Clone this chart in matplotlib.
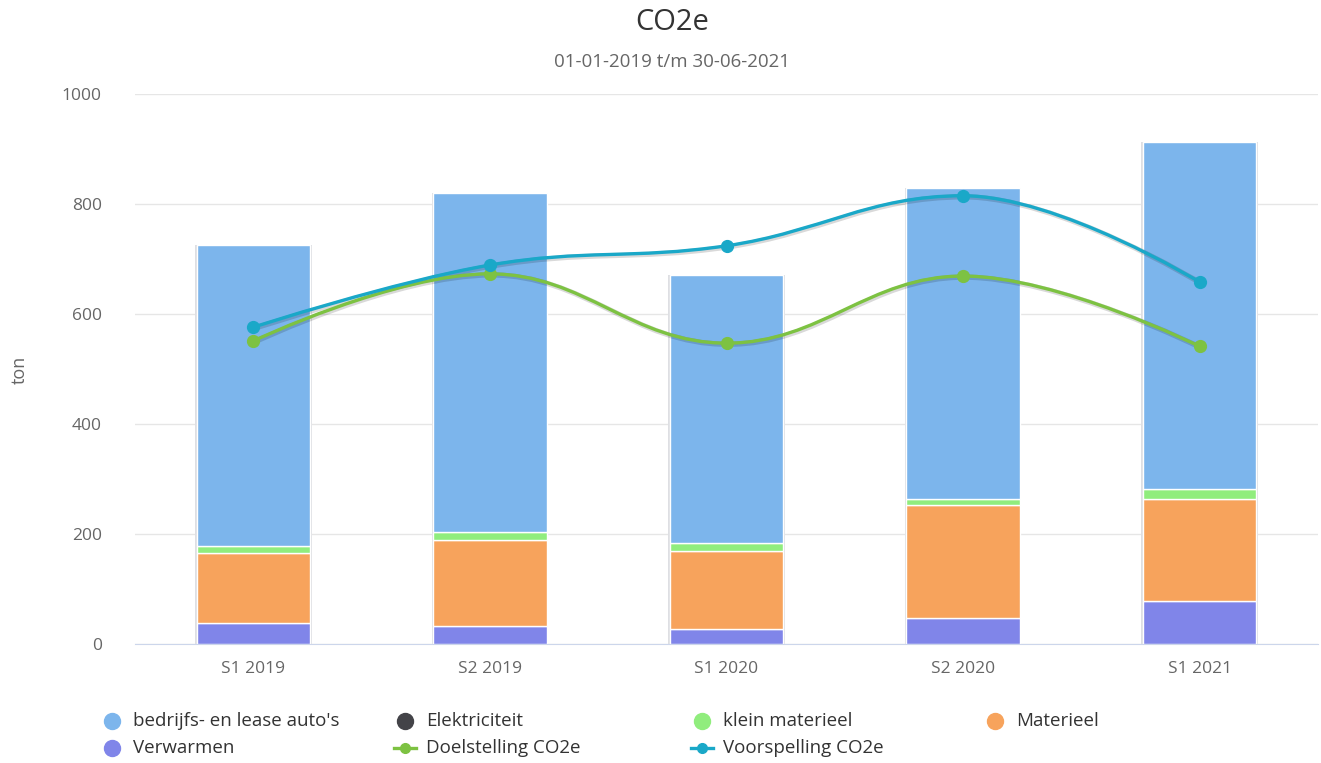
import matplotlib
matplotlib.use("Agg")
import matplotlib.pyplot as plt
import matplotlib.transforms as mtransforms
from matplotlib.path import Path
from matplotlib.patches import PathPatch
from matplotlib.lines import Line2D

plt.rcParams["font.family"] = ["Open Sans", "DejaVu Sans"]

# Data (ton CO2e per half year)
categories = ["S1 2019", "S2 2019", "S1 2020", "S2 2020", "S1 2021"]
verwarmen = [39, 33, 27, 48, 78]
materieel = [127, 157, 142, 205, 186]
elektriciteit = [0, 0, 0, 0, 0]
klein_materieel = [12, 14, 15, 10, 18]
lease_autos = [547, 616, 487, 566, 631]
doelstelling = [551, 673, 547, 669, 541]
voorspelling = [576, 689, 724, 815, 658]

# stacked bottom-to-top (Highcharts puts the first series on top)
stack = [
    ("Verwarmen", verwarmen, "#8085e9"),
    ("Materieel", materieel, "#f7a35c"),
    ("Elektriciteit", elektriciteit, "#434348"),
    ("klein materieel", klein_materieel, "#90ed7d"),
    ("bedrijfs- en lease auto's", lease_autos, "#7cb5ec"),
]
lines = [
    ("Doelstelling CO2e", doelstelling, "#7dc242"),
    ("Voorspelling CO2e", voorspelling, "#1aa8c8"),
]

TEXT = "#666666"


def spline_path(xs, ys, smoothing=1.5):
    """Bezier path like a Highcharts spline series."""
    n = len(xs)
    left = [None] * n
    right = [None] * n
    denom = smoothing + 1
    for i in range(1, n - 1):
        lx = (smoothing * xs[i] + xs[i - 1]) / denom
        ly = (smoothing * ys[i] + ys[i - 1]) / denom
        rx = (smoothing * xs[i] + xs[i + 1]) / denom
        ry = (smoothing * ys[i] + ys[i + 1]) / denom
        corr = (ry - ly) * (rx - xs[i]) / (rx - lx) + ys[i] - ry
        ly += corr
        ry += corr
        if ly > ys[i - 1] and ly > ys[i]:
            ly = max(ys[i - 1], ys[i])
            ry = 2 * ys[i] - ly
        elif ly < ys[i - 1] and ly < ys[i]:
            ly = min(ys[i - 1], ys[i])
            ry = 2 * ys[i] - ly
        if ry > ys[i + 1] and ry > ys[i]:
            ry = max(ys[i + 1], ys[i])
            ly = 2 * ys[i] - ry
        elif ry < ys[i + 1] and ry < ys[i]:
            ry = min(ys[i + 1], ys[i])
            ly = 2 * ys[i] - ry
        left[i] = (lx, ly)
        right[i] = (rx, ry)
    verts = [(xs[0], ys[0])]
    codes = [Path.MOVETO]
    for i in range(1, n):
        verts.append(right[i - 1] or (xs[i - 1], ys[i - 1]))
        verts.append(left[i] or (xs[i], ys[i]))
        verts.append((xs[i], ys[i]))
        codes += [Path.CURVE4] * 3
    return Path(verts, codes)


fig = plt.figure(figsize=(13.21, 7.63), dpi=100)
ax = fig.add_axes([135 / 1321, 119 / 763, 1183 / 1321, 550 / 763])

x = list(range(len(categories)))
width = 0.48

totals = [sum(v) for v in zip(*[s[1] for s in stack])]
ax.bar(x, totals, width=width + 0.012, color="#dedfe3", zorder=1.5, linewidth=0)

bottom = [0] * len(x)
for name, vals, col in stack:
    ax.bar(x, vals, bottom=bottom, width=width, color=col,
           edgecolor="white" if sum(vals) else "none", linewidth=1, zorder=2)
    bottom = [b + v for b, v in zip(bottom, vals)]

for name, vals, col in lines:
    p = spline_path(x, vals)
    shadow_tr = mtransforms.offset_copy(ax.transData, fig=fig, x=0.8, y=-0.8, units="points")
    ax.add_patch(PathPatch(p, facecolor="none", edgecolor="black", alpha=0.15,
                           linewidth=3.8, transform=shadow_tr, zorder=3))
    ax.add_patch(PathPatch(p, facecolor="none", edgecolor=col, linewidth=2.4, zorder=4))
    ax.plot(x, vals, "o", color=col, markersize=8.5, zorder=5)

ax.set_xlim(-0.5, len(categories) - 0.5)
ax.set_ylim(0, 1000)
ax.set_yticks(range(0, 1001, 200))
ax.set_xticks(x)
ax.set_xticklabels(categories)
ax.tick_params(axis="both", length=0, labelsize=12.5, labelcolor=TEXT)
ax.tick_params(axis="y", pad=24)
ax.tick_params(axis="x", pad=12)
ax.grid(axis="y", color="#e6e6e6", linewidth=1, zorder=0)
ax.set_axisbelow(True)
for s in ["top", "right", "left"]:
    ax.spines[s].set_visible(False)
ax.spines["bottom"].set_color("#ccd6eb")
ax.spines["bottom"].set_zorder(6)

fig.text(20 / 1321, 1 - 370 / 763, "ton", rotation=90, ha="center", va="center",
         fontsize=13, color=TEXT)
fig.text(672 / 1321, 1 - 22 / 763, "CO2e", ha="center", va="center", fontsize=21,
         color="#333333")
fig.text(672 / 1321, 1 - 62 / 763, "01-01-2019 t/m 30-06-2021", ha="center", va="center",
         fontsize=13.5, color=TEXT)

# legend laid out in fixed columns like the original
legend_items = [
    ("bedrijfs- en lease auto's", "#7cb5ec", False),
    ("Elektriciteit", "#434348", False),
    ("klein materieel", "#90ed7d", False),
    ("Materieel", "#f7a35c", False),
    ("Verwarmen", "#8085e9", False),
    ("Doelstelling CO2e", "#7dc242", True),
    ("Voorspelling CO2e", "#1aa8c8", True),
]
col_x = [112, 405, 702, 995]
row_y = [721, 748]
for i, (label, col, is_line) in enumerate(legend_items):
    cx = col_x[i % 4] / 1321
    cy = 1 - row_y[i // 4] / 763
    if is_line:
        fig.add_artist(Line2D([cx - 11 / 1321, cx + 11 / 1321], [cy, cy], color=col,
                              linewidth=2.4, transform=fig.transFigure))
        fig.add_artist(Line2D([cx], [cy], marker="o", markersize=7, color=col,
                              transform=fig.transFigure))
    else:
        fig.add_artist(Line2D([cx], [cy], marker="o", markersize=11.5, color=col,
                              linestyle="none", transform=fig.transFigure))
    fig.text(cx + 21 / 1321, cy, label, ha="left", va="center", fontsize=13.5,
             color="#333333")

fig.savefig("out.png", dpi=100)
